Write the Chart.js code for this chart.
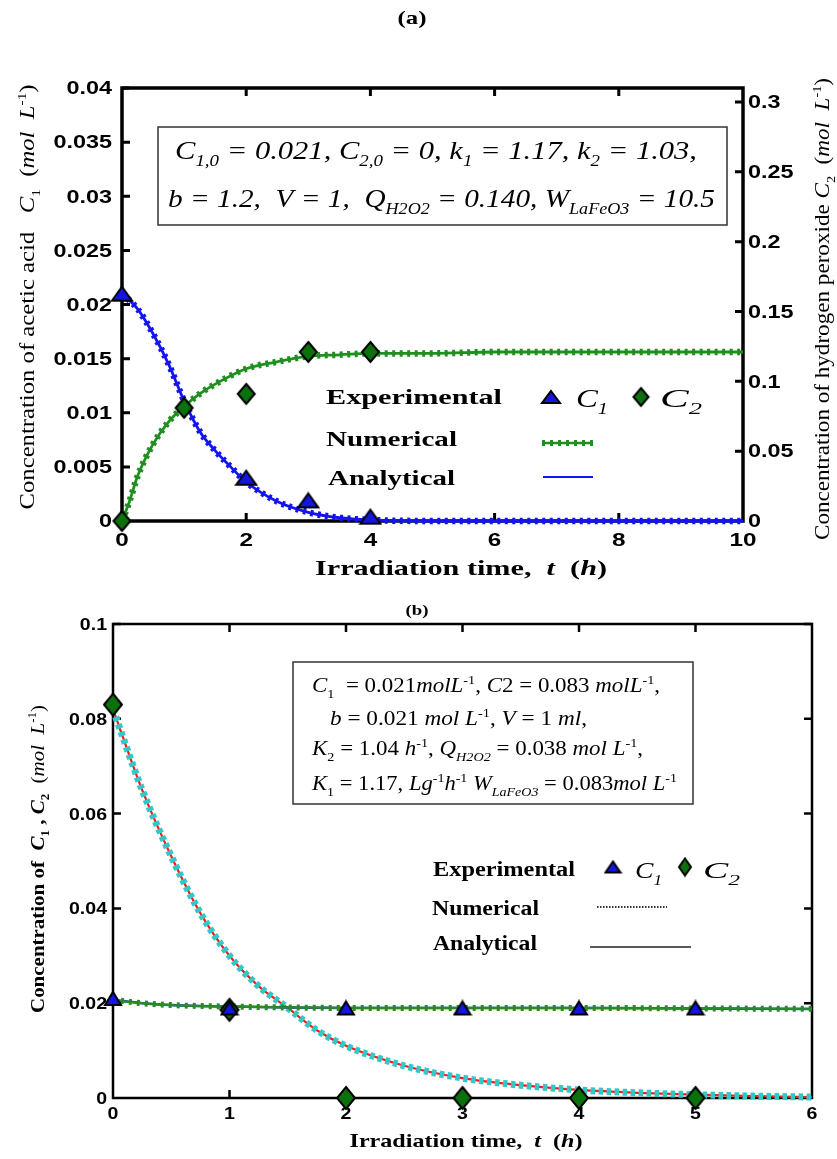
<!DOCTYPE html>
<html>
<head>
<meta charset="utf-8">
<script src="https://cdn.jsdelivr.net/npm/chart.js@4.4.0/dist/chart.umd.min.js"></script>
<style>
  html, body { margin: 0; padding: 0; background: #fff; }
  #wrap { position: relative; width: 837px; height: 1159px; }
  canvas { position: absolute; left: 0; }
  #ca { top: 0; }
  #cb { top: 600px; }
</style>
</head>
<body>
<div id="wrap">
  <canvas id="ca" width="837" height="600"></canvas>
  <canvas id="cb" width="837" height="559"></canvas>
</div>
<script>
// ===== (a) data =====
const tA1 = [0, 0.25, 0.5, 0.75, 1, 1.25, 1.5, 1.75, 2, 2.5, 3, 3.5, 4, 5, 6, 8, 10];
const c1A = [0.021, 0.0196, 0.0173, 0.0145, 0.0111, 0.0083, 0.0065, 0.005, 0.0036, 0.0018, 0.0008, 0.0003, 0.0001, 0, 0, 0, 0];
const tA2 = [0, 0.12, 0.25, 0.5, 0.75, 1, 1.25, 1.5, 2, 2.5, 3, 3.5, 4, 5, 6, 8, 10];
const c2A = [0, 0.014, 0.032, 0.055, 0.071, 0.082, 0.091, 0.098, 0.109, 0.114, 0.118, 0.119, 0.12, 0.12, 0.121, 0.121, 0.121];
const tExpC1A = [0, 2, 3, 4];
const expC1A = [0.021, 0.004, 0.0019, 0.0004];
const tExpC2A = [0, 1, 2, 3, 4];
const expC2A = [0, 0.081, 0.091, 0.121, 0.121];
const xTicksA = [0, 2, 4, 6, 8, 10];
const yTicksA = [0, 0.005, 0.01, 0.015, 0.02, 0.025, 0.03, 0.035, 0.04];
const y2TicksA = [0, 0.05, 0.1, 0.15, 0.2, 0.25, 0.3];

// ===== (b) data =====
const tB2 = [0, 0.25, 0.5, 0.75, 1, 1.25, 1.5, 1.75, 2, 2.5, 3, 3.5, 4, 4.5, 5, 5.5, 6];
const c2B = [0.082, 0.065, 0.051, 0.039, 0.030, 0.0236, 0.019, 0.0143, 0.011, 0.0068, 0.0042, 0.0027, 0.0017, 0.0011, 0.0007, 0.0004, 0.0002];
const tB1 = [0, 0.25, 0.5, 0.75, 1, 1.5, 2, 3, 4, 5, 6];
const c1B = [0.0207, 0.02, 0.0196, 0.0194, 0.0193, 0.0191, 0.019, 0.019, 0.019, 0.0189, 0.0188];
const tExpB = [0, 1, 2, 3, 4, 5];
const expC1B = [0.021, 0.019, 0.019, 0.019, 0.019, 0.019];
const expC2B = [0.083, 0.0186, 0, 0, 0, 0];
const xTicksB = [0, 1, 2, 3, 4, 5, 6];
const yTicksB = [0, 0.02, 0.04, 0.06, 0.08, 0.1];

const SERIF = '"Liberation Serif", "Times New Roman", serif';
const SANS = '"Liberation Sans", Arial, sans-serif';

const pts = (t, v) => t.map((x, i) => ({ x, y: v[i] }));
const fmt = v => String(+v.toFixed(4));
const setTicks = arr => s => { s.ticks = arr.map(v => ({ value: v })); };

// marker images (taller diamonds / flat triangles like the original)
function shape(kind, w, h, fill) {
  const c = document.createElement('canvas');
  c.width = w + 4; c.height = h + 4;
  const g = c.getContext('2d');
  g.beginPath();
  if (kind === 'tri') {
    g.moveTo(c.width / 2, 2); g.lineTo(w + 2, h + 2); g.lineTo(2, h + 2);
  } else {
    g.moveTo(c.width / 2, 2); g.lineTo(w + 2, c.height / 2); g.lineTo(c.width / 2, h + 2); g.lineTo(2, c.height / 2);
  }
  g.closePath();
  g.fillStyle = fill; g.fill();
  g.lineWidth = 2; g.strokeStyle = '#000'; g.stroke();
  return c;
}
const triA = shape('tri', 20, 14, '#1515e0');
const diaA = shape('dia', 17, 20, '#0c700c');
const triB = shape('tri', 16, 13, '#1515e0');
const diaB = shape('dia', 18, 22, '#0c700c');
const triLegA = shape('tri', 18, 12, '#1515e0');
const diaLegA = shape('dia', 15, 18, '#0c700c');
const triLegB = shape('tri', 15, 11, '#1515e0');
const diaLegB = shape('dia', 12, 17, '#0c700c');

// text with italic / bold / sub / sup pieces, stretched to a target width
function rich(ctx, segs, x, y, o) {
  const size = o.size, fam = o.fam || SERIF, gf = o.flags || '';
  const items = segs.map(([t, f]) => {
    f = (f || '') + gf;
    const sub = f.includes('_'), sup = f.includes('^');
    const sz = (sub || sup) ? size * 0.62 : size;
    const font = (f.includes('i') ? 'italic ' : '') + (f.includes('b') ? 'bold ' : '') + sz.toFixed(1) + 'px ' + fam;
    ctx.font = font;
    return { t, font, w: ctx.measureText(t).width, dy: sub ? size * 0.28 : sup ? -size * 0.42 : 0 };
  });
  const W = items.reduce((s, it) => s + it.w, 0);
  const sx = o.w ? o.w / W : (o.sx || 1);
  const al = o.align || 'left';
  const x0 = al === 'center' ? x - W * sx / 2 : al === 'right' ? x - W * sx : x;
  ctx.save();
  ctx.translate(x0, y + size * 0.35);
  ctx.scale(sx, 1);
  ctx.fillStyle = o.color || '#000';
  ctx.textBaseline = 'alphabetic';
  ctx.textAlign = 'left';
  let cx = 0;
  items.forEach(it => { ctx.font = it.font; ctx.fillText(it.t, cx, it.dy); cx += it.w; });
  ctx.restore();
}
function rotLabel(ctx, segs, cx, cy, len, size, flags) {
  ctx.save();
  ctx.translate(cx, cy);
  ctx.rotate(-Math.PI / 2);
  rich(ctx, segs, 0, 0, { align: 'center', w: len, size, flags });
  ctx.restore();
}
function line(ctx, x1, y1, x2, y2, color, w, dash) {
  ctx.save();
  ctx.strokeStyle = color; ctx.lineWidth = w;
  ctx.setLineDash(dash || []);
  ctx.beginPath(); ctx.moveTo(x1, y1); ctx.lineTo(x2, y2); ctx.stroke();
  ctx.restore();
}
function img(ctx, im, x, y) { ctx.drawImage(im, x - im.width / 2, y - im.height / 2); }

// box + inward ticks, drawn under the data
function framePlugin(cfg) {
  return {
    id: 'frame',
    beforeDatasetsDraw(chart) {
      const { ctx, chartArea: a, scales } = chart;
      const L = cfg.tick;
      ctx.save();
      ctx.strokeStyle = '#000';
      ctx.lineWidth = cfg.lw;
      ctx.strokeRect(a.left, a.top, a.right - a.left, a.bottom - a.top);
      ctx.lineWidth = cfg.tw;
      ctx.beginPath();
      scales.x.ticks.forEach(t => {
        const p = scales.x.getPixelForValue(t.value);
        if (p < a.left + 2 || p > a.right - 2) return;
        ctx.moveTo(p, a.bottom); ctx.lineTo(p, a.bottom - L);
        ctx.moveTo(p, a.top); ctx.lineTo(p, a.top + L);
      });
      scales.y.ticks.forEach(t => {
        const p = scales.y.getPixelForValue(t.value);
        if (p > a.bottom - 2) return;
        ctx.moveTo(a.left, p); ctx.lineTo(a.left + L, p);
        if (!scales.y2) { ctx.moveTo(a.right, p); ctx.lineTo(a.right - L, p); }
      });
      if (scales.y2) {
        scales.y2.ticks.forEach(t => {
          const p = scales.y2.getPixelForValue(t.value);
          if (p > a.bottom - 2) return;
          ctx.moveTo(a.right, p); ctx.lineTo(a.right - L, p);
        });
      }
      ctx.stroke();
      ctx.restore();
    },
    afterDraw(chart) { cfg.text(chart.ctx, chart); }
  };
}

const hidden = { grid: { display: false }, border: { display: false }, ticks: { display: false } };
const markStyle = { pointRadius: 0, cubicInterpolationMode: 'monotone', clip: false, fill: false };

// ===== chart (a) =====
new Chart(document.getElementById('ca'), {
  type: 'line',
  data: {
    datasets: [
      { label: 'Experimental C1', data: pts(tExpC1A, expC1A), yAxisID: 'y', showLine: false, pointStyle: triA, pointRadius: 8, order: 0, clip: false },
      { label: 'Experimental C2', data: pts(tExpC2A, expC2A), yAxisID: 'y2', showLine: false, pointStyle: diaA, pointRadius: 8, order: 1, clip: false },
      { label: 'Numerical C2 marks', data: pts(tA2, c2A), yAxisID: 'y2', borderColor: '#1f8f1f', borderWidth: 6.5, borderDash: [3, 4.5], order: 2, ...markStyle },
      { label: 'Numerical C2', data: pts(tA2, c2A), yAxisID: 'y2', borderColor: '#1f8f1f', borderWidth: 2.8, order: 3, ...markStyle },
      { label: 'Analytical C1 marks', data: pts(tA1, c1A), yAxisID: 'y', borderColor: '#1414f0', borderWidth: 6.5, borderDash: [3, 4.5], order: 4, ...markStyle },
      { label: 'Analytical C1', data: pts(tA1, c1A), yAxisID: 'y', borderColor: '#1414f0', borderWidth: 2.8, order: 5, ...markStyle }
    ]
  },
  options: {
    responsive: false, animation: false, events: [],
    layout: { padding: { top: 88, left: 0, right: 0, bottom: 0 } },
    plugins: { legend: { display: false }, tooltip: { enabled: false } },
    scales: {
      x: { type: 'linear', min: 0, max: 10, ...hidden, afterBuildTicks: setTicks(xTicksA), afterFit: s => { s.height = 79; } },
      y: { type: 'linear', position: 'left', min: 0, max: 0.04, ...hidden, afterBuildTicks: setTicks(yTicksA), afterFit: s => { s.width = 122; } },
      y2: { type: 'linear', position: 'right', min: 0, max: 0.31, ...hidden, afterBuildTicks: setTicks(y2TicksA), afterFit: s => { s.width = 94; } }
    }
  },
  plugins: [framePlugin({
    lw: 3.5, tw: 3, tick: 8,
    text(ctx, chart) {
      const { scales: s } = chart;
      s.y.ticks.forEach(t => rich(ctx, [[fmt(t.value), '']], 112, s.y.getPixelForValue(t.value), { align: 'right', size: 18, fam: SANS, flags: 'b', sx: 1.3 }));
      s.y2.ticks.forEach(t => rich(ctx, [[fmt(t.value), '']], 748, s.y2.getPixelForValue(t.value), { align: 'left', size: 18, fam: SANS, flags: 'b', sx: 1.3 }));
      s.x.ticks.forEach(t => rich(ctx, [[fmt(t.value), '']], s.x.getPixelForValue(t.value), 540, { align: 'center', size: 18, fam: SANS, flags: 'b', sx: 1.35 }));

      rich(ctx, [['(a)', '']], 412, 17, { align: 'center', size: 19, flags: 'b', w: 29 });

      // parameter box
      ctx.save(); ctx.strokeStyle = '#333'; ctx.lineWidth = 1.5;
      ctx.strokeRect(158, 127, 569, 98); ctx.restore();
      rich(ctx, [['C', 'i'], ['1,0', 'i_'], [' = 0.021, C', 'i'], ['2,0', 'i_'], [' = 0, k', 'i'], ['1', 'i_'], [' = 1.17, k', 'i'], ['2', 'i_'], [' = 1.03,', 'i']],
        175, 150, { size: 26, w: 522 });
      rich(ctx, [['b = 1.2,  V = 1,  Q', 'i'], ['H2O2', 'i_'], [' = 0.140, W', 'i'], ['LaFeO3', 'i_'], [' = 10.5', 'i']],
        168, 198, { size: 26, w: 547 });

      // legend
      rich(ctx, [['Experimental', '']], 326, 396, { size: 22, flags: 'b', w: 176 });
      img(ctx, triLegA, 551, 397);
      rich(ctx, [['C', 'i'], ['1', 'i_']], 576, 398, { size: 26, w: 32 });
      img(ctx, diaLegA, 641, 397);
      rich(ctx, [['C', 'i'], ['2', 'i_']], 660, 398, { size: 26, w: 42 });
      rich(ctx, [['Numerical', '']], 326, 438, { size: 22, flags: 'b', w: 131 });
      line(ctx, 542, 443, 593, 443, '#1f8f1f', 2.5);
      line(ctx, 542, 443, 593, 443, '#1f8f1f', 6, [3, 5]);
      rich(ctx, [['Analytical', '']], 328, 477, { size: 22, flags: 'b', w: 127 });
      line(ctx, 543, 477, 593, 477, '#1414f0', 1.8);

      // axis titles
      rich(ctx, [['Irradiation time,  ', 'b'], ['t', 'bi'], ['  (', 'b'], ['h', 'bi'], [')', 'b']], 461, 567, { align: 'center', size: 22, w: 292 });
      rotLabel(ctx, [['Concentration of acetic acid   ', ''], ['C', 'i'], ['1', '_'], ['  (', ''], ['mol  L', 'i'], ['-1', '^'], [')', '']], 27, 297, 425, 21);
      rotLabel(ctx, [['Concentration of hydrogen peroxide ', ''], ['C', 'i'], ['2', '_'], ['  (', ''], ['mol  L', 'i'], ['-1', '^'], [')', '']], 822, 309, 462, 21);
    }
  })]
});

// ===== chart (b) =====
new Chart(document.getElementById('cb'), {
  type: 'line',
  data: {
    datasets: [
      { label: 'Experimental C1', data: pts(tExpB, expC1B), showLine: false, pointStyle: triB, pointRadius: 8, order: 0, clip: false },
      { label: 'Experimental C2', data: pts(tExpB, expC2B), showLine: false, pointStyle: diaB, pointRadius: 8, order: 1, clip: false },
      { label: 'Numerical C1 marks', data: pts(tB1, c1B), borderColor: '#2a8a2a', borderWidth: 6, borderDash: [3, 5], order: 2, ...markStyle },
      { label: 'Numerical C1', data: pts(tB1, c1B), borderColor: '#2a8a2a', borderWidth: 2.2, order: 3, ...markStyle },
      { label: 'Analytical C1', data: pts(tB1, c1B), borderColor: '#2020e0', borderWidth: 2.5, order: 4, ...markStyle },
      { label: 'Numerical C2 marks', data: pts(tB2, c2B), borderColor: '#33c8c8', borderWidth: 7, borderDash: [4.5, 3.5], order: 5, ...markStyle },
      { label: 'Analytical C2', data: pts(tB2, c2B), borderColor: '#ff1a1a', borderWidth: 2.2, order: 6, ...markStyle }
    ]
  },
  options: {
    responsive: false, animation: false, events: [],
    layout: { padding: { top: 24, left: 0, right: 25, bottom: 0 } },
    plugins: { legend: { display: false }, tooltip: { enabled: false } },
    scales: {
      x: { type: 'linear', min: 0, max: 6, ...hidden, afterBuildTicks: setTicks(xTicksB), afterFit: s => { s.height = 61; } },
      y: { type: 'linear', position: 'left', min: 0, max: 0.1, ...hidden, afterBuildTicks: setTicks(yTicksB), afterFit: s => { s.width = 113; } }
    }
  },
  plugins: [framePlugin({
    lw: 2.5, tw: 2.5, tick: 8,
    text(ctx, chart) {
      const { scales: s } = chart;
      s.y.ticks.forEach(t => rich(ctx, [[fmt(t.value), '']], 107, s.y.getPixelForValue(t.value), { align: 'right', size: 17, fam: SANS, flags: 'b', sx: 1.15 }));
      s.x.ticks.forEach(t => rich(ctx, [[fmt(t.value), '']], s.x.getPixelForValue(t.value), 513, { align: 'center', size: 17, fam: SANS, flags: 'b', sx: 1.15 }));

      ctx.save();
      ctx.translate(0, -600); // page coordinates below
      rich(ctx, [['(b)', '']], 417, 610, { align: 'center', size: 15, flags: 'b', w: 23 });

      ctx.save(); ctx.strokeStyle = '#333'; ctx.lineWidth = 1.5;
      ctx.strokeRect(293, 662, 400, 142); ctx.restore();
      rich(ctx, [['C', 'i'], ['1', '_'], ['  = 0.021', ''], ['molL', 'i'], ['-1', '^'], [', ', ''], ['C', 'i'], ['2 = 0.083 ', ''], ['molL', 'i'], ['-1', '^'], [',', '']],
        312, 685, { size: 20, w: 348 });
      rich(ctx, [['b', 'i'], [' = 0.021 ', ''], ['mol L', 'i'], ['-1', '^'], [', ', ''], ['V', 'i'], [' = 1 ', ''], ['ml', 'i'], [',', '']],
        330, 718, { size: 20, w: 257 });
      rich(ctx, [['K', 'i'], ['2', '_'], [' = 1.04 ', ''], ['h', 'i'], ['-1', '^'], [', ', ''], ['Q', 'i'], ['H2O2', 'i_'], [' = 0.038 ', ''], ['mol L', 'i'], ['-1', '^'], [',', '']],
        312, 748, { size: 20, w: 331 });
      rich(ctx, [['K', 'i'], ['1', '_'], [' = 1.17, ', ''], ['Lg', 'i'], ['-1', '^'], ['h', 'i'], ['-1', '^'], [' ', ''], ['W', 'i'], ['LaFeO3', 'i_'], [' = 0.083', ''], ['mol L', 'i'], ['-1', '^']],
        312, 783, { size: 20, w: 365 });

      rich(ctx, [['Experimental', '']], 433, 869, { size: 20, flags: 'b', w: 142 });
      img(ctx, triLegB, 613, 867);
      rich(ctx, [['C', 'i'], ['1', 'i_']], 635, 870, { size: 24, w: 27 });
      img(ctx, diaLegB, 685, 867);
      rich(ctx, [['C', 'i'], ['2', 'i_']], 703, 870, { size: 24, w: 37 });
      rich(ctx, [['Numerical', '']], 432, 908, { size: 20, flags: 'b', w: 107 });
      line(ctx, 597, 907, 667, 907, '#333', 2, [1.5, 1.5]);
      rich(ctx, [['Analytical', '']], 433, 943, { size: 20, flags: 'b', w: 104 });
      line(ctx, 590, 947, 691, 947, '#222', 1.5);

      rich(ctx, [['Irradiation time,  ', 'b'], ['t', 'bi'], ['  (', 'b'], ['h', 'bi'], [')', 'b']], 466, 1140, { align: 'center', size: 19, w: 233 });
      rotLabel(ctx, [['Concentration of  ', 'b'], ['C', 'bi'], ['1', 'b_'], [' , ', 'b'], ['C', 'bi'], ['2', 'b_'], ['  (', ''], ['mol  L', 'i'], ['-1', '^'], [')', '']], 37, 859, 308, 19);
      ctx.restore();
    }
  })]
});
</script>
</body>
</html>
